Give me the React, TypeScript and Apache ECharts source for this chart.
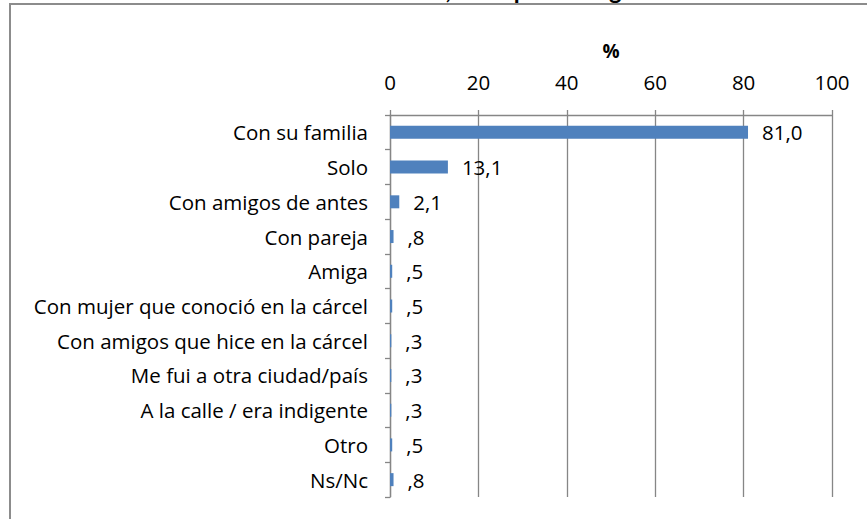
import React, { useEffect, useRef } from "react";
import * as echarts from "echarts";

const titleText = "Al salir de la cárcel, en el primer lugar";
const axisName = "%";
const categories = [
  "Con su familia",
  "Solo",
  "Con amigos de antes",
  "Con pareja",
  "Amiga",
  "Con mujer que conoció en la cárcel",
  "Con amigos que hice en la cárcel",
  "Me fui a otra ciudad/país",
  "A la calle / era indigente",
  "Otro",
  "Ns/Nc",
];
const values = [81.0, 13.1, 2.1, 0.8, 0.5, 0.5, 0.3, 0.3, 0.3, 0.5, 0.8];
const xMin = 0;
const xMax = 100;
const xStep = 20;

const FONT = "'Open Sans'";
const FS = 20.5;
const OFFSET = 30;

function fmt(v: number): string {
  let s = v.toFixed(1).replace(".", ",");
  if (s.startsWith("0,")) s = s.slice(1);
  return s;
}

export default function App() {
  const ref = useRef<HTMLDivElement>(null);
  useEffect(() => {
    document.body.style.overflow = "hidden";
    const chart = echarts.init(ref.current!, null, { renderer: "svg" });
    chart.setOption({
      animation: false,
      backgroundColor: "#ffffff",
      graphic: [
        {
          type: "rect",
          shape: { x: 10, y: 4 + OFFSET, width: 900, height: 600 },
          style: { fill: "none", stroke: "#8c8c8c", lineWidth: 2 },
          z: 0,
        },
        {
          type: "text",
          x: 446,
          y: OFFSET - 11,
          style: {
            text: titleText,
            font: "bold 24px Lato",
            fill: "#000",
            align: "center",
            verticalAlign: "middle",
          },
        },
      ],
      grid: { left: 390, right: 35, top: 115 + OFFSET, bottom: 22, containLabel: false },
      xAxis: {
        type: "value",
        position: "top",
        min: xMin,
        max: xMax,
        interval: xStep,
        name: axisName,
        nameLocation: "middle",
        nameGap: 55,
        nameTextStyle: { fontFamily: FONT, fontSize: 19, fontWeight: "bold", color: "#000" },
        axisLine: { show: true, lineStyle: { color: "#868686", width: 1.3 } },
        axisTick: { show: true, inside: false, length: 5, lineStyle: { color: "#868686", width: 1.3 } },
        axisLabel: { fontFamily: FONT, fontSize: FS, color: "#000", margin: 23 },
        splitLine: { show: true, lineStyle: { color: "#868686", width: 1.3 } },
      },
      yAxis: {
        type: "category",
        data: categories,
        inverse: true,
        axisLine: { show: true, lineStyle: { color: "#868686", width: 1.3 } },
        axisTick: { show: true, inside: false, length: 5, alignWithLabel: false, lineStyle: { color: "#868686", width: 1.3 } },
        axisLabel: { fontFamily: FONT, fontSize: FS, color: "#000", margin: 22 },
        splitLine: { show: false },
      },
      series: [
        {
          type: "bar",
          data: values,
          barWidth: 13,
          itemStyle: { color: "#4f81bd" },
          label: {
            show: true,
            position: "right",
            distance: 14,
            formatter: (p: any) => fmt(p.value),
            fontFamily: FONT,
            fontSize: FS,
            color: "#000",
          },
        },
      ],
    });
    return () => chart.dispose();
  }, []);
  return (
    <div
      ref={ref}
      style={{ position: "absolute", left: 0, top: -OFFSET, width: 867, height: 549 }}
    />
  );
}
